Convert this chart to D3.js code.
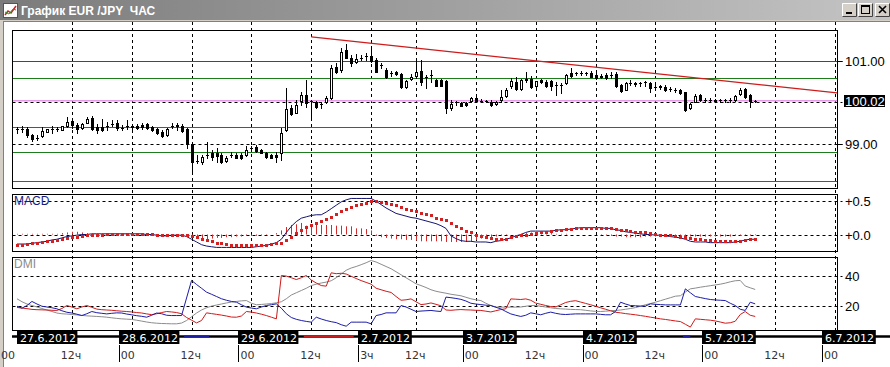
<!DOCTYPE html>
<html>
<head>
<meta charset="utf-8">
<script src="https://cdn.jsdelivr.net/npm/d3@7"></script>
<style>
body { margin: 0; background: #fff; }
svg { display: block; }
text { font-family: "Liberation Sans", Arial, sans-serif; }
</style>
</head>
<body>
<script>
var width = 890, height = 367;

// hourly bars, bar k = 1..149 (k = 0 is 27.6 00ч)
var open = [99.34,99.35,99.36,99.20,99.12,99.18,99.28,99.35,99.35,99.33,
  99.42,99.55,99.44,99.37,99.50,99.62,99.39,99.39,99.42,99.47,
  99.49,99.38,99.42,99.41,99.42,99.44,99.47,99.39,99.35,99.28,
  99.20,99.40,99.44,99.42,99.34,98.99,98.58,98.56,98.72,98.76,
  98.78,98.72,98.58,98.72,98.73,98.73,98.72,98.88,98.91,98.84,
  98.78,98.72,98.72,98.76,99.33,99.85,99.74,100.02,100.18,100.03,
  99.99,99.94,100.01,100.10,100.85,100.77,101.25,101.07,100.96,101.06,
  101.11,101.12,101.01,100.87,100.77,100.70,100.72,100.67,100.37,100.55,
  100.63,100.75,100.61,100.64,100.53,100.53,100.51,99.86,99.98,99.98,
  99.98,100.02,100.10,100.02,100.03,100.01,99.94,100.05,100.14,100.38,
  100.47,100.32,100.55,100.55,100.38,100.53,100.49,100.51,100.41,100.41,
  100.45,100.70,100.69,100.70,100.69,100.70,100.65,100.62,100.65,100.64,
  100.67,100.41,100.30,100.46,100.45,100.44,100.46,100.45,100.37,100.39,
  100.37,100.31,100.29,100.29,100.23,99.85,100.01,100.17,100.05,100.05,
  100.04,100.05,100.03,100.05,100.05,100.19,100.31,100.17,100.02];
var high = [99.40,99.41,99.39,99.23,99.21,99.40,99.35,99.42,99.40,99.43,
  99.63,99.61,99.49,99.49,99.63,99.66,99.47,99.58,99.52,99.57,
  99.57,99.44,99.57,99.45,99.46,99.50,99.50,99.41,99.37,99.32,
  99.37,99.50,99.50,99.47,99.37,99.00,98.72,98.72,99.04,98.84,
  98.88,98.76,98.70,98.79,98.76,98.78,98.95,98.94,98.96,98.87,
  98.80,98.75,98.80,99.37,100.33,99.93,100.05,100.25,100.53,100.05,
  100.03,100.01,100.15,100.89,100.93,101.30,101.39,101.13,101.16,101.13,
  101.17,101.29,101.06,100.94,100.83,100.75,100.74,100.70,100.53,100.67,
  101.01,101.01,100.65,100.77,100.55,100.56,100.53,100.05,100.02,100.01,
  100.01,100.12,100.13,100.07,100.06,100.05,100.03,100.29,100.34,100.57,
  100.60,100.55,100.72,100.62,100.51,100.56,100.53,100.53,100.47,100.46,
  100.67,100.82,100.73,100.74,100.73,100.75,100.69,100.67,100.69,100.72,
  100.72,100.43,100.48,100.53,100.48,100.49,100.51,100.49,100.41,100.41,
  100.41,100.36,100.34,100.31,100.25,99.97,100.19,100.19,100.10,100.09,
  100.08,100.08,100.07,100.09,100.17,100.34,100.34,100.19,100.05];
var low = [99.26,99.28,99.15,99.07,99.08,99.16,99.27,99.26,99.30,99.32,
  99.40,99.37,99.25,99.35,99.49,99.32,99.25,99.31,99.33,99.41,
  99.33,99.33,99.34,99.36,99.35,99.36,99.34,99.31,99.24,99.16,
  99.18,99.37,99.33,99.28,98.89,98.32,98.52,98.51,98.65,98.60,
  98.55,98.54,98.56,98.67,98.64,98.63,98.70,98.82,98.79,98.77,
  98.66,98.64,98.56,98.60,99.29,99.68,99.73,99.92,99.89,99.64,
  99.85,99.86,99.97,100.07,100.69,100.72,101.05,100.87,100.93,101.02,
  101.01,100.97,100.72,100.81,100.57,100.62,100.66,100.34,100.34,100.53,
  100.57,100.41,100.34,100.49,100.38,100.38,99.74,99.81,99.93,99.91,
  99.91,99.99,99.99,99.99,99.99,99.90,99.92,100.01,100.12,100.33,
  100.29,100.30,100.49,100.33,100.36,100.45,100.35,100.29,100.17,100.22,
  100.43,100.61,100.65,100.66,100.65,100.60,100.56,100.57,100.56,100.58,
  100.37,100.24,100.29,100.41,100.39,100.39,100.39,100.25,100.31,100.31,
  100.26,100.26,100.24,100.19,99.78,99.83,99.99,100.02,100.01,100.02,
  100.00,100.00,100.00,100.01,100.03,100.17,100.10,99.89,100.00];
var close = [99.35,99.36,99.20,99.11,99.14,99.30,99.34,99.36,99.34,99.41,
  99.51,99.44,99.36,99.47,99.59,99.34,99.33,99.33,99.43,99.46,
  99.37,99.37,99.43,99.40,99.37,99.39,99.37,99.33,99.26,99.18,
  99.35,99.41,99.43,99.30,98.99,98.56,98.59,98.68,98.73,98.68,
  98.70,98.56,98.66,98.73,98.65,98.65,98.84,98.89,98.83,98.78,
  98.67,98.65,98.67,99.26,99.82,99.71,99.93,100.17,99.97,100.02,
  99.89,99.95,100.10,100.81,100.72,101.21,101.07,100.93,101.04,101.07,
  101.12,100.99,100.73,100.88,100.61,100.69,100.67,100.37,100.51,100.61,
  100.73,100.47,100.60,100.65,100.39,100.39,99.85,99.94,99.99,99.91,
  99.92,100.09,100.02,100.03,100.02,99.93,100.00,100.13,100.29,100.51,
  100.31,100.53,100.54,100.36,100.50,100.47,100.39,100.39,100.40,100.42,
  100.65,100.63,100.70,100.70,100.69,100.61,100.57,100.61,100.58,100.65,
  100.39,100.27,100.45,100.46,100.44,100.45,100.47,100.33,100.36,100.35,
  100.29,100.31,100.28,100.21,99.81,99.95,100.15,100.05,100.06,100.05,
  100.03,100.04,100.04,100.06,100.15,100.30,100.12,100.03,100.02];

var macd = [-0.14,-0.14,-0.14,-0.13,-0.12,-0.11,-0.10,-0.08,-0.07,-0.05,
  -0.03,-0.02,-0.01,0.00,0.00,0.01,0.01,0.01,0.01,0.01,
  0.01,0.01,0.01,0.01,0.01,0.01,0.00,0.00,-0.01,-0.02,
  -0.02,-0.01,-0.01,-0.01,-0.03,-0.07,-0.11,-0.15,-0.17,-0.18,
  -0.19,-0.19,-0.19,-0.19,-0.19,-0.19,-0.19,-0.19,-0.18,-0.17,
  -0.16,-0.14,-0.12,-0.07,0.03,0.12,0.19,0.24,0.26,0.28,
  0.29,0.29,0.33,0.38,0.43,0.48,0.51,0.53,0.53,0.53,
  0.53,0.53,0.49,0.44,0.39,0.35,0.31,0.29,0.27,0.25,
  0.24,0.22,0.20,0.18,0.16,0.13,0.09,-0.02,-0.06,-0.09,
  -0.10,-0.10,-0.11,-0.11,-0.11,-0.12,-0.10,-0.09,-0.07,-0.05,
  -0.02,0.00,0.03,0.05,0.05,0.05,0.05,0.05,0.06,0.07,
  0.07,0.08,0.09,0.10,0.10,0.10,0.10,0.10,0.09,0.09,
  0.07,0.06,0.04,0.03,0.02,0.01,0.00,0.00,-0.01,-0.01,
  -0.02,-0.03,-0.04,-0.05,-0.07,-0.10,-0.11,-0.11,-0.11,-0.12,
  -0.12,-0.12,-0.12,-0.12,-0.11,-0.10,-0.08,-0.07,-0.07];
var signal = [-0.16,-0.15,-0.14,-0.13,-0.12,-0.11,-0.10,-0.09,-0.08,-0.06,
  -0.05,-0.04,-0.03,-0.02,-0.01,0.00,0.00,0.00,0.01,0.01,
  0.01,0.01,0.01,0.01,0.01,0.01,0.01,0.01,0.00,0.00,
  0.00,0.00,-0.01,-0.01,-0.01,-0.02,-0.04,-0.06,-0.08,-0.10,
  -0.12,-0.13,-0.14,-0.15,-0.16,-0.16,-0.16,-0.16,-0.16,-0.16,
  -0.15,-0.14,-0.13,-0.12,-0.08,-0.03,0.02,0.07,0.11,0.14,
  0.17,0.20,0.23,0.26,0.30,0.34,0.37,0.40,0.43,0.45,
  0.47,0.49,0.49,0.48,0.47,0.45,0.43,0.41,0.38,0.36,
  0.34,0.32,0.30,0.28,0.25,0.23,0.21,0.17,0.13,0.09,
  0.05,0.03,0.00,-0.02,-0.04,-0.05,-0.06,-0.06,-0.06,-0.04,
  -0.02,-0.01,0.00,0.01,0.02,0.03,0.04,0.05,0.06,0.07,
  0.08,0.08,0.09,0.09,0.10,0.10,0.10,0.10,0.09,0.09,
  0.08,0.07,0.06,0.05,0.04,0.03,0.03,0.02,0.01,0.00,
  -0.01,-0.01,-0.02,-0.03,-0.04,-0.05,-0.06,-0.07,-0.08,-0.08,
  -0.09,-0.09,-0.09,-0.09,-0.09,-0.09,-0.08,-0.07,-0.07];
var hist = [0.01,0.01,0.01,0.01,0.01,0.01,0.01,0.01,0.01,0.02,
  0.03,0.04,0.04,0.03,0.02,0.01,0.01,0.01,0.00,0.00,
  0.00,0.00,0.00,0.00,0.00,0.00,0.00,0.00,-0.01,-0.01,
  0.00,0.00,0.00,0.00,-0.02,-0.04,-0.06,-0.07,-0.07,-0.06,
  -0.05,-0.05,-0.04,-0.04,-0.03,-0.03,-0.02,-0.02,-0.02,-0.01,
  -0.01,0.00,0.02,0.06,0.11,0.14,0.15,0.17,0.13,0.12,
  0.14,0.14,0.14,0.14,0.13,0.13,0.12,0.12,0.09,0.09,
  0.08,0.06,-0.02,-0.04,-0.05,-0.06,-0.07,-0.07,-0.08,-0.08,
  -0.09,-0.10,-0.10,-0.10,-0.10,-0.10,-0.11,-0.11,-0.11,-0.11,
  -0.11,-0.10,-0.08,-0.06,-0.05,-0.04,-0.03,-0.02,-0.01,0.00,
  0.00,0.01,0.02,0.03,0.03,0.03,0.02,0.02,0.01,0.01,
  0.01,0.00,0.00,0.00,0.00,0.00,0.00,-0.01,-0.01,-0.02,
  -0.03,-0.03,-0.04,-0.04,-0.04,-0.04,-0.03,-0.03,-0.03,-0.02,
  -0.02,-0.02,-0.02,-0.02,-0.02,-0.03,-0.03,-0.03,-0.03,-0.03,
  -0.03,-0.03,-0.03,-0.03,-0.02,-0.02,-0.01,-0.01,-0.01];

var pdi = [19.5,18.2,20,22.7,21,19.5,19,18.5,17.8,16.5,
  15.5,15,14.2,13.3,14.5,16,15.2,14.8,14.4,14.8,
  15.1,15,14.3,13.8,13.2,12.8,12.2,13.5,15,14.5,
  13.5,13.3,13.3,13.3,25,36.7,34,31.5,28.9,27.5,
  26,24.5,23.5,22.7,22.2,20.5,18.9,18.3,17.8,19,
  20,20.5,21.1,18.2,14.5,12,10.8,10,9.4,8.9,
  12.2,11,10,9.2,8.6,7.2,6.2,8.9,8.9,8.9,
  8.9,7.8,13.3,14,15.1,15.1,15.1,20,19,17.5,
  16,16.3,16.5,16.7,16.3,16,25.6,25.2,24.7,24.1,
  23,21.5,21,20.6,20.2,20,18.8,17.8,16,14.4,
  13.5,12.7,13.5,15.1,14.5,13.8,14.8,15.6,14.8,14.2,
  14,14.2,14.4,14.4,14.4,14.4,14.4,14.1,13.8,13.8,
  16,22.2,21,20,19.8,19.6,19.6,21.1,20.8,20.6,
  20.4,20.4,20.4,20.4,31.1,28.5,26,25.3,24.6,24,
  23.7,23.5,23.3,21.5,20,17.5,16.7,22.2,21.1];
var mdi = [18.7,18.3,17.9,17.4,17.2,17.1,17,16.8,16.7,18,
  20,19,17.8,19,20,18.8,17.6,17.2,17,16.8,
  16.5,16.2,16,15.7,15.3,15,14.4,13.9,14.5,15.3,
  16,15.7,15.3,14.5,12,10.2,8.4,10,15.1,14.6,
  14.1,13.6,13,12.3,12.2,13,16,15.6,15,14.2,
  13.3,12.2,11.1,40,39.6,38.5,37.3,38.5,40,37,
  35,33.3,32.9,41.8,41.2,41.5,41,39.5,38,36.6,
  35.4,34.2,31.5,30.5,29.5,28.7,26,23.5,23.8,24.4,
  22.5,20.6,21,21.7,20.8,19.8,17,16.8,17.1,17.3,
  17.1,17,16.8,16.7,16.2,15.7,16.5,17.3,17.8,24.4,
  24.2,24,24.4,23.5,21.6,20.8,20,19.3,19,20.5,
  22,22.8,23.2,22.3,21.4,20.5,19.5,18.5,17.5,16.5,
  15.5,15.1,14.6,14.2,13.8,13.3,12.8,12.2,11.7,11.1,
  10.7,10.2,9.7,9.3,7.5,5.6,11.1,10.8,10.5,10.2,
  9.7,9,8.2,8.5,9.5,14,16,13.5,12.7];
var adx = [24.5,22.5,21,20,19,18,17,16,15,14.5,
  14.3,14,13.7,13.4,13.1,12.9,12.7,12.5,12.2,11.8,
  11.4,11.1,10.9,10.7,10.2,9.6,9,8.5,8.2,8,
  7.9,7.8,7.8,8.3,10,12.5,15,17,18.5,19.6,
  20.3,21,21.7,22.3,22.7,23.1,23.3,21.5,20.5,20.7,
  21,21.3,21.8,22.5,24.5,27,28.5,30,31.5,33.3,
  34.2,35,35.6,36.5,38.5,41,43.5,45,46,47.2,
  48.5,50,49,47.5,46,44.5,42.5,40.5,38.5,36.5,
  34.5,33.3,32,30.5,29.5,28.8,28.2,27.5,27,26.5,
  25.5,24.5,23.8,23.3,21.5,20,19,18.9,18.9,18.9,
  18.9,19,19.5,20,20,19.5,19,18.5,18,17.8,
  17.6,17.4,17.3,17.2,16.8,16.4,16.1,16,16.2,16.5,
  16.7,17,17.5,18,18.6,19.5,20.5,21.3,22.2,23.2,
  24.2,25.2,26.2,26.5,29,31.1,31.6,32.2,32.7,33.2,
  33.7,34.2,34.9,35.8,36.5,36.7,33,31.8,30.7];

// chart objects
var resistance = [101.00];
var supports = [100.59, 99.40, 98.79, 98.10];
var lastPrice = 100.02;
var trendline = [[60, 101.57], [165.4, 100.22]];
var priceTicks = [101, 99];
var priceGrid = [101, 100, 99];
var macdTicks = [0.5, 0];
var dmiTicks = [40, 20];
// DMI strip under the chart: [from bar, to bar, colour]
var dmiStrip = [[34.5, 39.5, "#1c1ca0"], [58.5, 68.5, "#c81e1e"], [134.5, 136, "#1c1ca0"]];

var hourTicks = [[0,"00"],[12,"12ч"],[24,"00"],[36,"12ч"],[48,"00"],[60,"12ч"],[72,"3ч"],[81,"12ч"],
  [93,"00"],[105,"12ч"],[117,"00"],[129,"12ч"],[141,"00"],[153,"12ч"],[165,"00"]];
var days = [["27.6.2012",0],["28.6.2012",24],["29.6.2012",48],["2.7.2012",72],
  ["3.7.2012",93],["4.7.2012",117],["5.7.2012",141],["6.7.2012",165]];

var svg = d3.select("body").append("svg").attr("width", width).attr("height", height);

// window chrome
var defs = svg.append("defs");
var grad = defs.append("linearGradient").attr("id", "cap");
grad.append("stop").attr("offset", "0%").attr("stop-color", "#7b7b7b");
grad.append("stop").attr("offset", "100%").attr("stop-color", "#c4c4c4");
svg.append("rect").attr("width", width).attr("height", height).attr("fill", "#d4d0c8");
svg.append("rect").attr("width", width).attr("height", 20).attr("fill", "url(#cap)");
svg.append("rect").attr("x", 4).attr("y", 22).attr("width", width - 4).attr("height", height - 22).attr("fill", "#fff");
svg.append("line").attr("x1", 3.5).attr("x2", 3.5).attr("y1", 21).attr("y2", height).attr("stroke", "#808080");
svg.append("line").attr("x1", 3).attr("x2", width).attr("y1", 21.5).attr("y2", 21.5).attr("stroke", "#808080");

var icon = svg.append("g").attr("transform", "translate(3,3)");
icon.append("rect").attr("x", 0.5).attr("y", 0.5).attr("width", 14).attr("height", 14).attr("fill", "#fff").attr("stroke", "#555");
icon.append("polyline").attr("points", "2,12 5,8 8,10 13,3").attr("fill", "none").attr("stroke", "#d02020").attr("stroke-width", 1.5);
icon.append("polyline").attr("points", "2,9 6,11 10,6 13,7").attr("fill", "none").attr("stroke", "#20a020");
svg.append("text").attr("x", 21).attr("y", 15).attr("fill", "#fff")
  .style("white-space", "pre").style("font-weight", "bold").style("font-size", "12px")
  .text("График EUR /JPY  ЧАС");

var buttons = [[842, "min"], [858, "max"], [875, "close"]];
buttons.forEach(function (b) {
  var g = svg.append("g").attr("transform", "translate(" + b[0] + ",3)");
  g.append("rect").attr("width", 15).attr("height", 14).attr("fill", "#d4d0c8");
  g.append("path").attr("d", "M0.5,13.5V0.5H14.5").attr("fill", "none").attr("stroke", "#fff");
  g.append("path").attr("d", "M0.5,13.5H14.5V0.5").attr("fill", "none").attr("stroke", "#404040");
  if (b[1] == "min") g.append("rect").attr("x", 4).attr("y", 9).attr("width", 6).attr("height", 2).attr("fill", "#000");
  if (b[1] == "max") {
    g.append("rect").attr("x", 3.5).attr("y", 2.5).attr("width", 8).attr("height", 8).attr("fill", "none").attr("stroke", "#000");
    g.append("line").attr("x1", 3).attr("x2", 12).attr("y1", 3.5).attr("y2", 3.5).attr("stroke", "#000");
  }
  if (b[1] == "close") g.append("path").attr("d", "M4,3L11,10M11,3L4,10").attr("stroke", "#000").attr("stroke-width", 1.6);
});

// scales
var x = d3.scaleLinear().domain([0, 165]).range([12, 835]);
var yP = d3.scaleLinear().domain([99, 101]).range([143.5, 60.5]);
var yM = d3.scaleLinear().domain([0, 0.5]).range([234.5, 200.5]);
var yD = d3.scaleLinear().domain([20, 40]).range([305.5, 275.5]);
var L = 12.5, R = 837.5;
var panels = [[30.5, 188.5], [194.5, 251.5], [257.5, 330.5]];

function px(v) { return Math.round(v) + 0.5; }

// vertical grid
svg.append("g").selectAll("line").data(hourTicks.filter(function (d) { return d[0] > 0; }))
  .join("line")
  .attr("x1", function (d) { return px(x(d[0])); }).attr("x2", function (d) { return px(x(d[0])); })
  .attr("y1", 22).attr("y2", 331)
  .attr("stroke", "#000").attr("stroke-dasharray", "3,3");

// horizontal grid
function hgrid(vals, sc) {
  svg.append("g").selectAll("line").data(vals).join("line")
    .attr("x1", L).attr("x2", R + 5)
    .attr("y1", function (d) { return px(sc(d)); }).attr("y2", function (d) { return px(sc(d)); })
    .attr("stroke", "#000").attr("stroke-dasharray", "3,3");
}
hgrid(priceGrid, yP);
hgrid(macdTicks, yM);
hgrid(dmiTicks, yD);

// price level lines
var lev = svg.append("g");
lev.selectAll(".sup").data(supports).join("line")
  .attr("x1", L).attr("x2", R)
  .attr("y1", function (d) { return px(yP(d)); }).attr("y2", function (d) { return px(yP(d)); })
  .attr("stroke", "#1d7d1d");
lev.selectAll(".res").data(resistance).join("line")
  .attr("x1", L).attr("x2", R)
  .attr("y1", function (d) { return px(yP(d)); }).attr("y2", function (d) { return px(yP(d)); })
  .attr("stroke", "#b81818");
lev.append("line").attr("x1", L).attr("x2", R)
  .attr("y1", yP(lastPrice) - 0.5).attr("y2", yP(lastPrice) - 0.5)
  .attr("stroke", "#e49ae4").attr("stroke-width", 1.5);
lev.append("path")
  .attr("d", d3.line().x(function (d) { return x(d[0]); }).y(function (d) { return yP(d[1]); })(trendline))
  .attr("fill", "none").attr("stroke", "#cc1c1c").attr("stroke-width", 1.2);

// candles
var bars = d3.range(open.length).map(function (i) {
  return { k: i + 1, o: open[i], h: high[i], l: low[i], c: close[i] };
});
var cg = svg.append("g");
bars.forEach(function (d) {
  var cx = Math.round(x(d.k));
  cg.append("line").attr("x1", cx + 0.5).attr("x2", cx + 0.5)
    .attr("y1", Math.round(yP(d.h))).attr("y2", Math.round(yP(d.l)) + 1).attr("stroke", "#000");
  var top = Math.round(yP(Math.max(d.o, d.c))), bot = Math.round(yP(Math.min(d.o, d.c)));
  if (d.c < d.o) {
    cg.append("rect").attr("x", cx - 1).attr("y", top).attr("width", 3).attr("height", Math.max(1, bot - top + 1)).attr("fill", "#000");
  } else if (bot - top < 2) {
    cg.append("rect").attr("x", cx - 1).attr("y", top).attr("width", 3).attr("height", 1).attr("fill", "#000");
  } else {
    cg.append("rect").attr("x", cx - 0.5).attr("y", top + 0.5).attr("width", 2).attr("height", bot - top)
      .attr("fill", "#fff").attr("stroke", "#000");
  }
});

// MACD
var mg = svg.append("g");
mg.selectAll("line").data(hist).join("line")
  .attr("x1", function (d, i) { return px(x(i + 1)); }).attr("x2", function (d, i) { return px(x(i + 1)); })
  .attr("y1", yM(0)).attr("y2", function (d) { return yM(d); })
  .attr("stroke", "#d42a2a");
mg.append("path")
  .attr("d", d3.line().x(function (d, i) { return x(i + 1); }).y(function (d) { return yM(d); })(macd))
  .attr("fill", "none").attr("stroke", "#141470");
mg.selectAll("rect").data(signal).join("rect")
  .attr("x", function (d, i) { return Math.round(x(i + 1)) - 1; })
  .attr("y", function (d) { return Math.round(yM(d)) - 1; })
  .attr("width", 3).attr("height", 3).attr("fill", "#d42020");

// DMI
var dg = svg.append("g");
[[adx, "#8c8c8c"], [mdi, "#d01a1a"], [pdi, "#1c1ca8"]].forEach(function (s) {
  dg.append("path")
    .attr("d", d3.line().x(function (d, i) { return x(i + 1); }).y(function (d) { return yD(d); })(s[0]))
    .attr("fill", "none").attr("stroke", s[1]);
});

// panel frames
svg.append("g").selectAll("rect").data(panels).join("rect")
  .attr("x", L).attr("y", function (d) { return d[0]; })
  .attr("width", R - L).attr("height", function (d) { return d[1] - d[0]; })
  .attr("fill", "none").attr("stroke", "#000");

svg.append("text").attr("x", 14).attr("y", 205).attr("fill", "#1a1a80").style("font-size", "12px").text("MACD");
svg.append("text").attr("x", 14).attr("y", 268).attr("fill", "#8a8a8a").style("font-size", "12px").text("DMI");

// right axis
var ax = svg.append("g").style("font-size", "13px");
ax.selectAll(".pt").data(priceTicks).join("text").attr("class", "pt")
  .attr("x", 845).attr("y", function (d) { return yP(d) + 5; }).text(function (d) { return d3.format(".2f")(d); });
ax.selectAll(".pk").data(priceTicks).join("line").attr("class", "pk")
  .attr("x1", R).attr("x2", R + 5)
  .attr("y1", function (d) { return px(yP(d)); }).attr("y2", function (d) { return px(yP(d)); }).attr("stroke", "#000");
ax.append("rect").attr("x", 844).attr("y", Math.round(yP(lastPrice)) - 6).attr("width", 41).attr("height", 12).attr("fill", "#000");
ax.append("text").attr("x", 845).attr("y", yP(lastPrice) + 5).attr("fill", "#fff").text(d3.format(".2f")(lastPrice));
ax.selectAll(".mt").data(macdTicks).join("text").attr("class", "mt")
  .attr("x", 845).attr("y", function (d) { return yM(d) + 5; }).text(function (d) { return d3.format("+.1f")(d); });
ax.selectAll(".dt").data(dmiTicks).join("text").attr("class", "dt")
  .attr("x", 845).attr("y", function (d) { return yD(d) + 5; }).text(function (d) { return d; });

// time axis
var tb = svg.append("g");
tb.append("line").attr("x1", 12).attr("x2", width).attr("y1", 336.5).attr("y2", 336.5).attr("stroke", "#000").attr("stroke-width", 2.5);
tb.selectAll(".strip").data(dmiStrip).join("line").attr("class", "strip")
  .attr("x1", function (d) { return x(d[0]); }).attr("x2", function (d) { return x(d[1]); })
  .attr("y1", 336.5).attr("y2", 336.5).attr("stroke", function (d) { return d[2]; }).attr("stroke-width", 2);
var dayG = tb.selectAll(".day").data(days).join("g").attr("class", "day")
  .attr("transform", function (d) { return "translate(" + Math.max(17, Math.round(x(d[1])) - 13) + ",330)"; });
dayG.append("rect").attr("width", function (d) { return d[0].length * 6.6 + 1; }).attr("height", 14).attr("fill", "#000");
dayG.append("text").attr("x", 3).attr("y", 11.5).attr("fill", "#fff")
  .style("font-family", "'DejaVu Sans', sans-serif").style("font-size", "11px").text(function (d) { return d[0]; });
tb.selectAll(".sep").data(days.slice(1)).join("line").attr("class", "sep")
  .attr("x1", function (d) { return px(x(d[1]) - 13); }).attr("x2", function (d) { return px(x(d[1]) - 13); })
  .attr("y1", 345).attr("y2", 362).attr("stroke", "#000");
tb.selectAll(".hr").data(hourTicks).join("text").attr("class", "hr")
  .attr("x", function (d) { return x(d[0]) - 11; }).attr("y", 359)
  .attr("fill", "#333").style("font-family", "'DejaVu Sans', sans-serif").style("font-size", "11px")
  .text(function (d) { return d[1]; });
</script>
</body>
</html>
